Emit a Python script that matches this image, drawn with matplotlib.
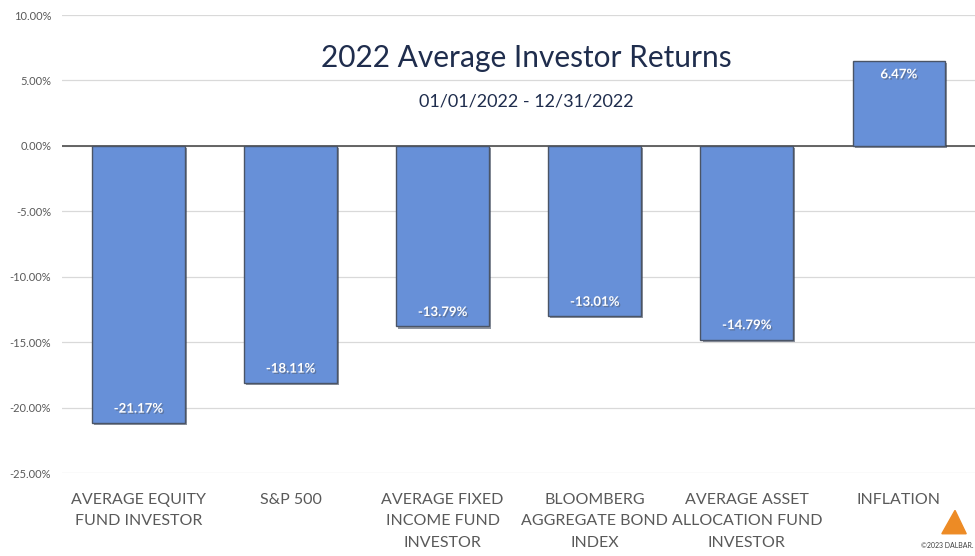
import matplotlib.pyplot as plt
import matplotlib.patheffects as pe
from matplotlib.patches import Polygon
from matplotlib.ticker import FuncFormatter, MultipleLocator

plt.rcParams['font.family'] = ['Lato', 'DejaVu Sans']

# data
categories = ["AVERAGE EQUITY\nFUND INVESTOR", "S&P 500",
              "AVERAGE FIXED\nINCOME FUND\nINVESTOR",
              "BLOOMBERG\nAGGREGATE BOND\nINDEX",
              "AVERAGE ASSET\nALLOCATION FUND\nINVESTOR", "INFLATION"]
returns = [-21.17, -18.11, -13.79, -13.01, -14.79, 6.47]

fig = plt.figure(figsize=(9.75, 5.56), dpi=100)
ax = fig.add_axes([0.064, 0.149, 0.936, 0.824])

x = range(len(categories))
bars = ax.bar(x, returns, width=0.61, color='#6790D8', edgecolor='#4a5466',
              linewidth=1.0, zorder=3)
for b in bars:
    b.set_path_effects([pe.SimplePatchShadow(offset=(1.5, -1.5), alpha=0.5),
                        pe.Normal()])

for xi, v in zip(x, returns):
    off = 1.1 if v < 0 else -1.0
    ax.text(xi, v + off, f"{v:.2f}%", ha='center', va='center', color='white',
            fontsize=9.5, fontweight='bold', zorder=4,
            path_effects=[pe.withSimplePatchShadow(offset=(1, -1), alpha=0.4)])

ax.set_xlim(-0.5, len(categories) - 0.5)
ax.set_ylim(-25, 10)
ax.yaxis.set_major_locator(MultipleLocator(5))
ax.yaxis.set_major_formatter(FuncFormatter(lambda v, p: f"{v:.2f}%"))
ax.grid(axis='y', color='#d9d9d9', linewidth=0.9, zorder=0)
ax.axhline(0, color='#595959', linewidth=1.3, zorder=2)
for s in ax.spines.values():
    s.set_visible(False)
ax.tick_params(axis='y', length=0, labelsize=8, labelcolor='#595959', pad=8)
ax.tick_params(axis='x', length=0, labelsize=11.5, labelcolor='#595959', pad=14)
ax.set_xticks(list(x))
ax.set_xticklabels(categories, linespacing=1.7, va='top')

fig.text(0.54, 0.895, "2022 Average Investor Returns", ha='center', va='center',
         fontsize=21.5, color='#1f2d4d')
fig.text(0.54, 0.817, "01/01/2022 - 12/31/2022", ha='center', va='center',
         fontsize=13, color='#1f2d4d')

# small logo and credit in the corner
logo = Polygon([[0.9795, 0.082], [0.966, 0.040], [0.991, 0.040]],
               closed=True, transform=fig.transFigure, color='#ed8b25')
fig.patches.append(logo)
fig.text(0.998, 0.012, "©2023 DALBAR.", ha='right', va='bottom',
         fontsize=5, color='#404040')

fig.savefig('out.png', dpi=100)
